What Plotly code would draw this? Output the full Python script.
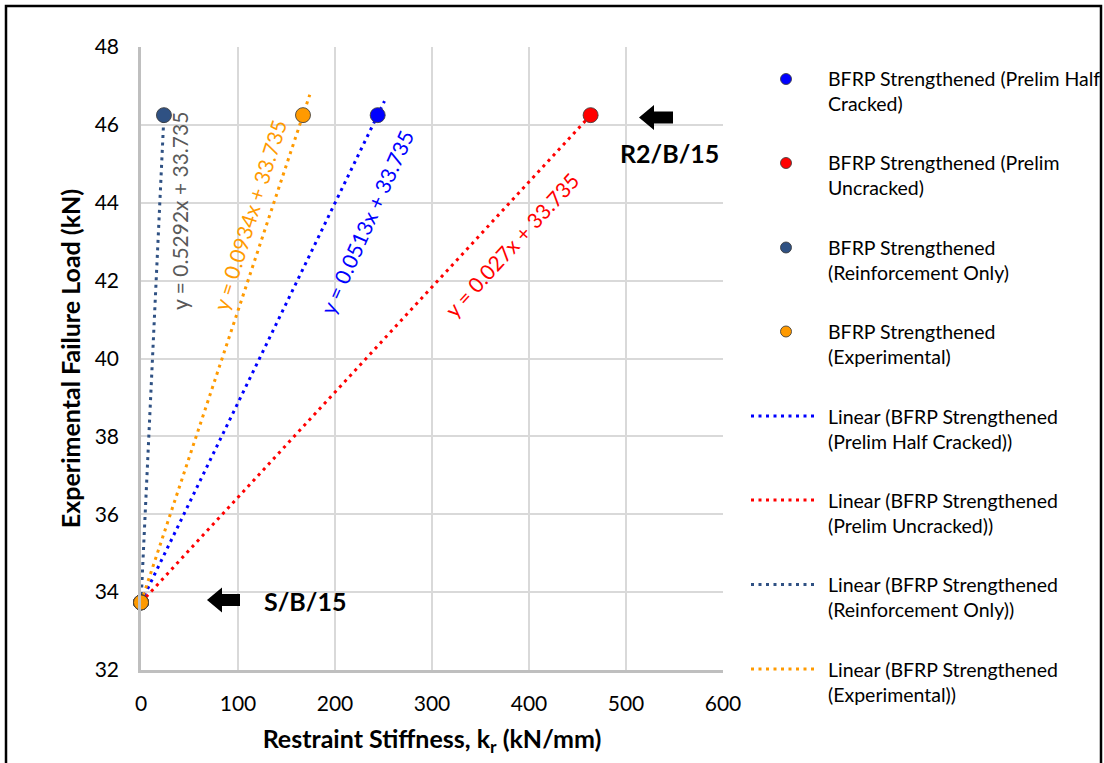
import plotly.graph_objects as go

# Figure and plot-area geometry (pixels)
W, H = 1104, 763
PL, PR, PT, PB = 141, 723, 47, 670

FONT = "Lato"

# ---- data -------------------------------------------------------------
series_names = [
    "BFRP Strengthened (Prelim Half Cracked)",
    "BFRP Strengthened (Prelim Uncracked)",
    "BFRP Strengthened (Reinforcement Only)",
    "BFRP Strengthened (Experimental)",
]
series_colors = ["#0000FF", "#FF0000", "#2F5183", "#FF9A00"]

# every series shares the S/B/15 control point at k_r = 0
x_start = [0.0, 0.0, 0.0, 0.0]
y_start = [33.735, 33.735, 33.735, 33.735]
# R2/B/15 point per stiffness assumption
x_r2 = [244.0, 463.5, 23.65, 167.0]
y_r2 = [46.25, 46.25, 46.25, 46.25]

# trendline forward forecast (kN/mm) and equation text
trend_forward = [7.0, 7.0, 0.0, 7.0]
trend_intercept = 33.735
# NOTE: the trendlines are fitted through the plotted points. For three series
# the fitted slope equals the printed one; for "Experimental" the printed
# equation says 0.0934, but its points (0, 33.735) and (167, 46.25) give a
# slope of about 0.075, so that line does not follow its printed equation.
equation_text = [
    "y = 0.0513x + 33.735",
    "y = 0.027x + 33.735",
    "y = 0.5292x + 33.735",
    "y = 0.0934x + 33.735",
]
equation_colors = ["#0000FF", "#FF0000", "#595959", "#FF9A00"]

x_ticks = [0, 100, 200, 300, 400, 500, 600]
y_ticks = [32, 34, 36, 38, 40, 42, 44, 46, 48]


def px(x):
    return (x - PL) / (PR - PL)


def py(y):
    return (PB - y) / (PB - PT)


fig = go.Figure()

# linear trendlines with fixed intercept (least squares through the points)
for i in range(4):
    xs = [x_start[i], x_r2[i]]
    ys = [y_start[i], y_r2[i]]
    num = sum(x * (y - trend_intercept) for x, y in zip(xs, ys))
    den = sum(x * x for x in xs)
    slope = num / den
    x1 = x_r2[i] + trend_forward[i]
    fig.add_trace(go.Scatter(
        x=[0, x1], y=[trend_intercept, trend_intercept + slope * x1],
        mode="lines", showlegend=False, hoverinfo="skip",
        line=dict(color=series_colors[i], width=3, dash="3px,4.5px"),
    ))

# measured points
for i in range(4):
    fig.add_trace(go.Scatter(
        x=[x_start[i], x_r2[i]], y=[y_start[i], y_r2[i]],
        mode="markers", name=series_names[i], showlegend=False,
        cliponaxis=False,
        marker=dict(size=15, color=series_colors[i],
                    line=dict(color="rgba(60,60,60,0.85)", width=1)),
    ))

shapes = []
annotations = []

# outer chart border
shapes.append(dict(type="rect", xref="paper", yref="paper",
                   x0=px(6), x1=px(1101), y0=py(6), y1=py(790),
                   line=dict(color="black", width=2.5), layer="above"))

# equation labels along trendlines
eq_pos = [(366, 222, -66), (512, 245, -47.5), (179, 211, -90), (249, 215, -72.5)]
for i, (cx, cy, ang) in enumerate(eq_pos):
    annotations.append(dict(
        xref="paper", yref="paper", x=px(cx), y=py(cy),
        text=equation_text[i], showarrow=False, textangle=ang,
        font=dict(family=FONT, size=21, color=equation_colors[i]),
        xanchor="center", yanchor="middle",
    ))


def block_arrow(tip_x, cy, end_x):
    head_back = tip_x + 15
    pts = [(tip_x, cy), (head_back, cy - 12.5), (head_back, cy - 6),
           (end_x, cy - 6), (end_x, cy + 6), (head_back, cy + 6),
           (head_back, cy + 12.5)]
    path = "M " + " L ".join(f"{px(a):.5f},{py(b):.5f}" for a, b in pts) + " Z"
    return dict(type="path", xref="paper", yref="paper", path=path,
                fillcolor="black", line=dict(color="black", width=0))


shapes.append(block_arrow(207, 600, 240))
shapes.append(block_arrow(639, 117.5, 673))
annotations.append(dict(xref="paper", yref="paper", x=px(262), y=py(601),
                        text="<b>S/B/15</b>", showarrow=False,
                        xanchor="left", yanchor="middle",
                        font=dict(family=FONT, size=25, color="black")))
annotations.append(dict(xref="paper", yref="paper", x=px(618), y=py(153),
                        text="<b>R2/B/15</b>", showarrow=False,
                        xanchor="left", yanchor="middle",
                        font=dict(family=FONT, size=25, color="black")))

# legend
legend_text = [
    "BFRP Strengthened (Prelim Half<br>Cracked)",
    "BFRP Strengthened (Prelim<br>Uncracked)",
    "BFRP Strengthened<br>(Reinforcement Only)",
    "BFRP Strengthened<br>(Experimental)",
    "Linear (BFRP Strengthened<br>(Prelim Half Cracked))",
    "Linear (BFRP Strengthened<br>(Prelim Uncracked))",
    "Linear (BFRP Strengthened<br>(Reinforcement Only))",
    "Linear (BFRP Strengthened<br>(Experimental))",
]
legend_y = [79, 163, 247.5, 331.5, 416, 500, 584.5, 669]
for k, ly in enumerate(legend_y):
    col = series_colors[k % 4]
    if k < 4:
        shapes.append(dict(type="circle", xref="paper", yref="paper",
                           xsizemode="pixel", ysizemode="pixel",
                           xanchor=px(786), yanchor=py(ly),
                           x0=-5.5, x1=5.5, y0=-5.5, y1=5.5,
                           fillcolor=col,
                           line=dict(color="rgba(60,60,60,0.85)", width=1)))
    else:
        shapes.append(dict(type="line", xref="paper", yref="paper",
                           x0=px(751), x1=px(818), y0=py(ly), y1=py(ly),
                           line=dict(color=col, width=3, dash="3px,4.5px")))
    annotations.append(dict(xref="paper", yref="paper", x=px(826),
                            y=py(ly + 12.5), text=legend_text[k],
                            showarrow=False, align="left",
                            xanchor="left", yanchor="middle",
                            font=dict(family=FONT, size=19.5, color="black")))

fig.update_layout(
    width=W, height=H,
    margin=dict(l=PL, r=W - PR, t=PT, b=H - PB, pad=0),
    paper_bgcolor="white", plot_bgcolor="white",
    showlegend=False,
    shapes=shapes, annotations=annotations,
    font=dict(family=FONT, color="black"),
)
fig.update_xaxes(
    range=[0, 600], tickvals=x_ticks, showgrid=True,
    gridcolor="#D9D9D9", gridwidth=1.5, zeroline=False,
    showline=True, linecolor="#BFBFBF", linewidth=2.5,
    ticks="", ticklabelstandoff=13,
    tickfont=dict(family=FONT, size=21, color="black"),
    title=dict(text="<b>Restraint Stiffness, k<sub>r</sub> (kN/mm)</b>",
               font=dict(family=FONT, size=25, color="black"), standoff=17),
)
fig.update_yaxes(
    range=[32, 48], tickvals=y_ticks, showgrid=True,
    gridcolor="#D9D9D9", gridwidth=1.5, zeroline=False,
    showline=True, linecolor="#BFBFBF", linewidth=2.5,
    ticks="", ticklabelstandoff=15,
    tickfont=dict(family=FONT, size=21, color="black"),
    title=dict(text="<b>Experimental Failure Load (kN)</b>",
               font=dict(family=FONT, size=25, color="black"), standoff=7),
)

fig.write_html("out.html")
